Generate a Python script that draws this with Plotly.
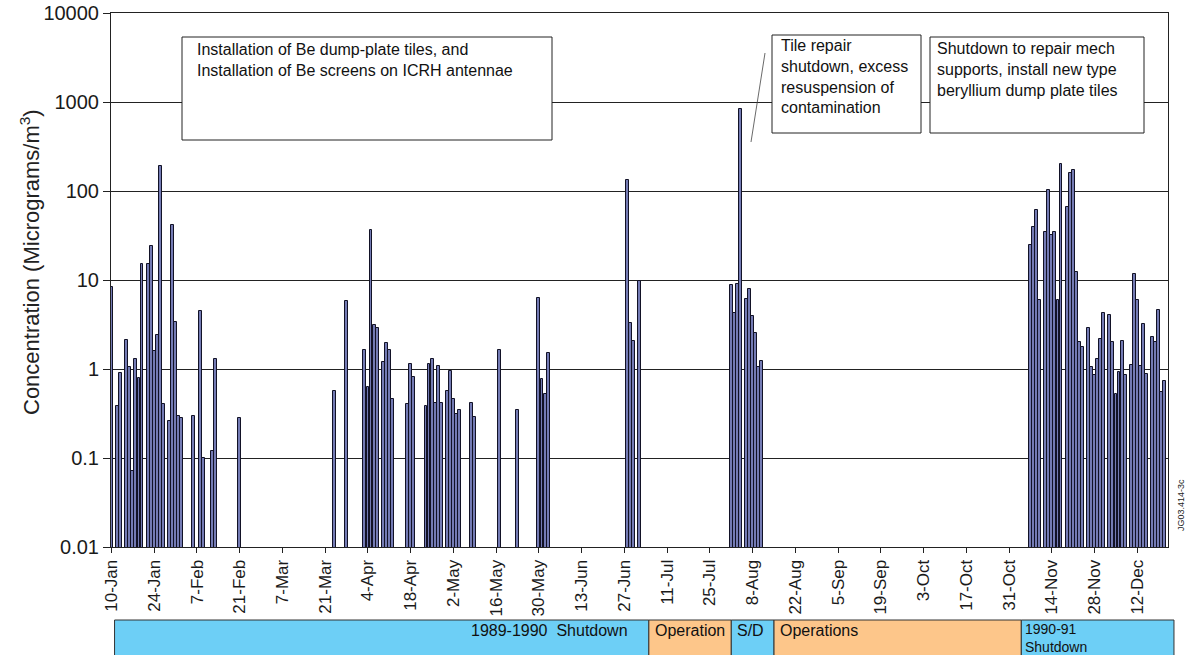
import plotly.graph_objects as go
import pandas as pd

# ---------------- data ----------------
dates = [
    "1990-01-10", "1990-01-12", "1990-01-13", "1990-01-15", "1990-01-16", "1990-01-17",
    "1990-01-18", "1990-01-19", "1990-01-20", "1990-01-22", "1990-01-23", "1990-01-24",
    "1990-01-25", "1990-01-26", "1990-01-27", "1990-01-29", "1990-01-30", "1990-01-31",
    "1990-02-01", "1990-02-02", "1990-02-06", "1990-02-08", "1990-02-09", "1990-02-12",
    "1990-02-13", "1990-02-21", "1990-03-24", "1990-03-28",
    "1990-04-03", "1990-04-04", "1990-04-05", "1990-04-06", "1990-04-07", "1990-04-09",
    "1990-04-10", "1990-04-11", "1990-04-12", "1990-04-17", "1990-04-18", "1990-04-19",
    "1990-04-23", "1990-04-24", "1990-04-25", "1990-04-26", "1990-04-27", "1990-04-28",
    "1990-04-30", "1990-05-01", "1990-05-02", "1990-05-03", "1990-05-04", "1990-05-08",
    "1990-05-09", "1990-05-17", "1990-05-23", "1990-05-30", "1990-05-31", "1990-06-01",
    "1990-06-02",
    "1990-06-28", "1990-06-29", "1990-06-30", "1990-07-02",
    "1990-08-01", "1990-08-02", "1990-08-03", "1990-08-04", "1990-08-06", "1990-08-07",
    "1990-08-08", "1990-08-09", "1990-08-10", "1990-08-11",
    "1990-11-07", "1990-11-08", "1990-11-09", "1990-11-10", "1990-11-12", "1990-11-13",
    "1990-11-14", "1990-11-15", "1990-11-16", "1990-11-17", "1990-11-19", "1990-11-20",
    "1990-11-21", "1990-11-22", "1990-11-23", "1990-11-24", "1990-11-26", "1990-11-27",
    "1990-11-28", "1990-11-29", "1990-11-30", "1990-12-01", "1990-12-03", "1990-12-04",
    "1990-12-05", "1990-12-06", "1990-12-07", "1990-12-08", "1990-12-10", "1990-12-11",
    "1990-12-12", "1990-12-13", "1990-12-14", "1990-12-15", "1990-12-17", "1990-12-18",
    "1990-12-19", "1990-12-20", "1990-12-21",
]
concentration = [
    8.3, 0.38, 0.9, 2.1, 1.05, 0.072,
    1.3, 0.8, 15, 15, 24, 1.6,
    2.4, 190, 0.4, 0.26, 41, 3.4,
    0.3, 0.28, 0.3, 4.5, 0.1, 0.12,
    1.3, 0.28, 0.57, 5.8,
    1.62, 0.63, 36.5, 3.1, 2.9, 1.19,
    1.98, 1.62, 0.46, 0.40, 1.13, 0.81,
    0.38, 1.15, 1.29, 0.41, 1.07, 0.41,
    0.57, 0.94, 0.46, 0.31, 0.35, 0.42,
    0.29, 1.62, 0.35, 6.25, 0.77, 0.52,
    1.53,
    133, 3.3, 2.07, 9.8,
    8.8, 4.3, 9.0, 830, 6.1, 7.9,
    3.95, 2.56, 1.04, 1.24,
    24.9, 39.7, 61.8, 5.9, 34.8, 102,
    32, 34.5, 5.9, 203, 66, 160,
    171, 12.4, 2.0, 1.77, 2.87, 1.04,
    0.85, 1.29, 2.2, 4.24, 4.0, 2.0,
    0.53, 0.925, 2.08, 0.85, 1.12, 11.6,
    5.9, 1.07, 3.2, 0.87, 2.27, 2.0,
    4.6, 0.55, 0.73,
]

x_tick_dates = [str(d.date()) for d in pd.date_range("1990-01-10", periods=25, freq="14D")]
x_tick_labels = ["10-Jan", "24-Jan", "7-Feb", "21-Feb", "7-Mar", "21-Mar", "4-Apr", "18-Apr",
                 "2-May", "16-May", "30-May", "13-Jun", "27-Jun", "11-Jul", "25-Jul", "8-Aug",
                 "22-Aug", "5-Sep", "19-Sep", "3-Oct", "17-Oct", "31-Oct", "14-Nov", "28-Nov",
                 "12-Dec"]
y_tick_vals = [0.01, 0.1, 1, 10, 100, 1000, 10000]
y_tick_labels = ["0.01", "0.1", "1", "10", "100", "1000", "10000"]

period_names = ["1989-1990  Shutdown", "Operation", "S/D", "Operations", "1990-91<br>Shutdown"]
period_starts = ["1990-01-11", "1990-07-05", "1990-08-01", "1990-08-15", "1990-11-04"]
period_ends = ["1990-07-05", "1990-08-01", "1990-08-15", "1990-11-04", "1990-12-24"]
period_colors = ["#6dcff6", "#fdc68a", "#6dcff6", "#fdc68a", "#6dcff6"]

# ---------------- layout helpers ----------------
W, H = 1190, 655
L, R, T, B = 111, 1168, 13, 547
x_range = ["1990-01-09 20:00", "1990-12-22 01:00"]
r0, r1 = pd.Timestamp(x_range[0]), pd.Timestamp(x_range[1])


def xp(px):
    return (px - L) / (R - L)


def yp(py):
    return (B - py) / (B - T)


def xd(d):
    return (pd.Timestamp(d) - r0) / (r1 - r0)


FONT = "Arial, Liberation Sans, Helvetica, sans-serif"

fig = go.Figure()
fig.add_trace(go.Bar(
    x=dates, y=concentration,
    width=86400000 * 0.95,
    marker=dict(color="#747bb4", line=dict(color="#121226", width=1)),
    showlegend=False,
))

shapes = []
annotations = []

# annotation boxes
boxes = [
    (182, 37, 552, 140, 195, 39,
     "Installation of Be dump-plate tiles, and<br>Installation of Be screens on ICRH antennae"),
    (772, 35, 921, 133, 779, 35,
     "Tile repair<br>shutdown, excess<br>resuspension of<br>contamination"),
    (930, 37, 1144, 133, 935, 38,
     "Shutdown to repair mech<br>supports, install new type<br>beryllium dump plate tiles"),
]
for x0, y0, x1, y1, tx, ty, txt in boxes:
    shapes.append(dict(type="rect", xref="paper", yref="paper", layer="above",
                       x0=xp(x0), x1=xp(x1), y0=yp(y1), y1=yp(y0),
                       line=dict(color="#222", width=1), fillcolor="white"))
    annotations.append(dict(xref="paper", yref="paper", x=xp(tx), y=yp(ty),
                            xanchor="left", yanchor="top", align="left", showarrow=False,
                            text=txt, font=dict(family=FONT, size=16, color="#111")))

# pointer line for the tile repair box
shapes.append(dict(type="line", xref="paper", yref="paper", layer="above",
                   x0=xp(765), y0=yp(53), x1=xp(751), y1=yp(142),
                   line=dict(color="#444", width=0.8)))

# bottom operations band
band_top, band_bot = yp(620), yp(662)
for i, (nm, s, e, c) in enumerate(zip(period_names, period_starts, period_ends, period_colors)):
    shapes.append(dict(type="rect", xref="paper", yref="paper", layer="above",
                       x0=xd(s), x1=xd(e), y0=band_bot, y1=band_top,
                       line=dict(color="#333", width=1), fillcolor=c))
    if i == 0:
        annotations.append(dict(xref="paper", yref="paper", x=xd(e), xshift=-19, y=yp(630),
                                xanchor="right", yanchor="middle", showarrow=False, text=nm,
                                font=dict(family=FONT, size=16, color="#111")))
    elif i == 4:
        annotations.append(dict(xref="paper", yref="paper", x=xd(s), xshift=2, y=yp(619),
                                xanchor="left", yanchor="top", align="left", showarrow=False,
                                text=nm, font=dict(family=FONT, size=14, color="#111")))
    else:
        annotations.append(dict(xref="paper", yref="paper", x=xd(s), xshift=4, y=yp(630),
                                xanchor="left", yanchor="middle", showarrow=False, text=nm,
                                font=dict(family=FONT, size=16, color="#111")))

# y-axis title
annotations.append(dict(xref="paper", yref="paper", x=xp(30), y=yp(262),
                        xanchor="center", yanchor="middle", textangle=-90, showarrow=False,
                        text="Concentration (Micrograms/m<sup>3</sup>)",
                        font=dict(family=FONT, size=22, color="#222")))

# figure code
annotations.append(dict(xref="paper", yref="paper", x=xp(1181), y=yp(505),
                        xanchor="center", yanchor="middle", textangle=-90, showarrow=False,
                        text="JG03.414-3c", font=dict(family=FONT, size=9, color="#222")))

fig.update_layout(
    width=W, height=H, autosize=False,
    margin=dict(l=L, r=W - R, t=T, b=H - B, pad=0),
    paper_bgcolor="white", plot_bgcolor="white",
    font=dict(family=FONT, color="#222"),
    bargap=0,
    shapes=shapes, annotations=annotations,
    xaxis=dict(type="date", range=x_range, tickvals=x_tick_dates, ticktext=x_tick_labels,
               tickangle=-90, ticks="outside", ticklen=5, tickcolor="#222",
               showline=True, mirror=True, linecolor="#222", linewidth=1,
               showgrid=False, zeroline=False, automargin=False,
               tickfont=dict(family=FONT, size=17, color="#1a1a1a")),
    yaxis=dict(type="log", range=[-2, 4], tickvals=y_tick_vals, ticktext=y_tick_labels,
               ticks="outside", ticklen=7, tickcolor="#222",
               showline=True, mirror=True, linecolor="#222", linewidth=1,
               showgrid=True, gridcolor="#222", gridwidth=1, zeroline=False, automargin=False,
               tickfont=dict(family=FONT, size=20, color="#1a1a1a")),
)

fig.write_html("out.html", config={"displayModeBar": False},
               post_script="document.body.style.margin='0';document.body.style.overflow='hidden';")
